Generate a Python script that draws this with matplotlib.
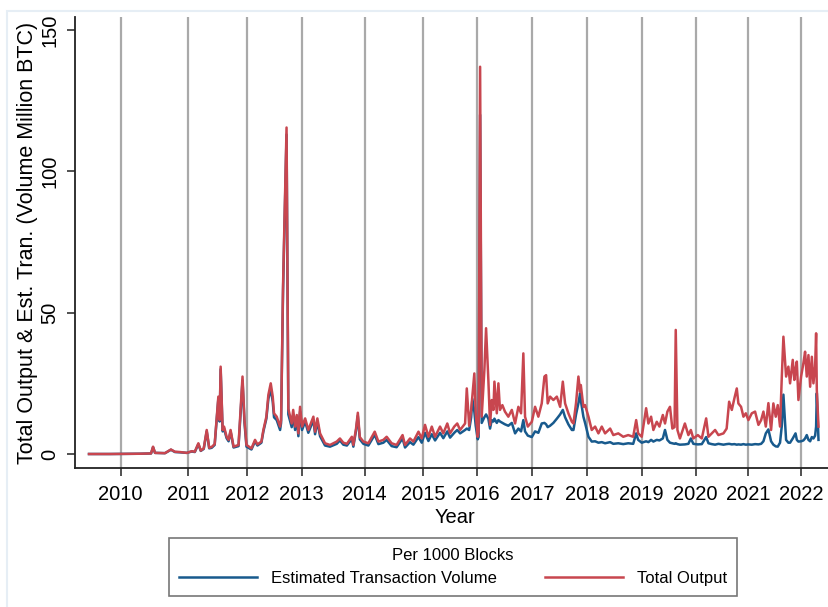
import matplotlib
matplotlib.use("Agg")
import matplotlib.pyplot as plt
from matplotlib.patches import Rectangle

plt.rcParams['font.family'] = ['Liberation Sans', 'DejaVu Sans']

# block height (thousands of blocks) and values per 1000 blocks (million BTC)
blocks_k = [0.6, 21.7, 52, 63, 65, 67, 77, 83, 87, 92, 99, 104, 107, 110.6, 113, 116, 119, 121.5, 124, 127,
            130.7, 132, 133, 135, 136.4, 139, 141, 143, 146, 151, 153, 155, 157, 159, 164, 167.6, 170, 174, 176, 179,
            181, 183.4, 185.4, 186.7, 189.4, 192.8, 193.8, 195.8, 199.3, 201.1, 204.5, 206, 207.9, 209.6, 211.2, 212.9, 214.9, 218, 221.2, 226.3,
            228, 230.3, 233, 238, 243, 249.8, 253, 256.4, 260, 265, 266.5, 269.2, 271, 273, 276.6, 281.6, 288, 291.7, 296.7, 300,
            305, 310, 316, 318.5, 323.5, 326.9, 332, 335.3, 338.6, 342, 345.4, 348.7, 353.7, 357, 361, 363.8, 368, 371, 373.9, 378.9,
            380.6, 383, 385, 386.2, 388.2, 389.6, 391.6, 392.5, 394.0, 395.6, 398.3, 400, 402.3, 404, 405.7, 407.4, 408.4, 410.8, 412.4, 414,
            416.4, 419, 422.4, 425.9, 429.2, 432.5, 435.2, 437.5, 439.2, 442, 446, 449.3, 452.6, 456, 458.7, 460.4, 462, 464.4, 467.7, 471.2,
            474.5, 477.2, 479.5, 482.8, 486.3, 487.9, 490.5, 492.9, 494.6, 495.3, 497.9, 499.6, 503, 506.3, 509.7, 513, 516.4, 519.7, 524.8, 528,
            533, 538, 543, 548, 551, 553, 556.6, 561, 563.3, 566, 568.3, 571.7, 574.4, 577.8, 580, 582.4, 585, 587.4, 589.6, 590.8,
            592.5, 595, 600, 603.5, 606, 608.5, 613, 617, 621.4, 623.7, 627, 630.4, 633.7, 638.8, 642, 644.5, 647.2, 649.8, 652.2, 653.8,
            656.5, 658.9, 661.3, 663.9, 667.3, 670.6, 674, 676.7, 679, 681.4, 684, 686.7, 689, 691.4, 693.4, 695.7, 697.5, 699.1, 701.8, 704.1,
            705.8, 708.5, 710.1, 711.3, 712.6, 714.2, 716.9, 719.2, 720.9, 722.6, 724.3, 726, 727.7, 729.3, 731, 732, 732.7, 734.4]

total_output = [0, 0, 0.1, 0.2, 2.6, 0.4, 0.3, 1.6, 0.8, 0.7, 0.4, 1.0, 0.8, 3.8, 1.2, 2.0, 8.5, 2.2, 2.5, 3.5,
                20.3, 12, 30.9, 8.5, 9.7, 6.1, 5, 8.5, 2.6, 3.2, 15, 27.4, 12, 3.2, 2, 5, 3.4, 4.4, 8.5, 13.2,
                20.9, 25, 20.3, 14.4, 13.2, 9.7, 12, 60, 115.5, 16, 10.8, 15.6, 9.7, 13.8, 7.3, 16.7, 9.7, 12.6, 8.5, 13.2,
                7.9, 12.6, 7.3, 3.8, 3.2, 4.4, 5.5, 4.0, 3.6, 6.1, 3.2, 9, 14.6, 6, 4.4, 3.8, 7.9, 4.4, 5.0, 6.1,
                3.8, 3.2, 6.7, 3.2, 5.5, 4.4, 7.9, 5.5, 10.3, 6.1, 9.7, 6.1, 9.7, 7.3, 10.8, 7.3, 9.7, 10.8, 8.5, 10.8,
                23.2, 10, 15.6, 20.3, 28.5, 14.4, 6.1, 8, 137, 13.2, 29.7, 44.5, 26.2, 10.3, 19.1, 15.6, 25.6, 14.4, 25, 15.6,
                17.3, 15, 13.2, 15.6, 10.8, 16.7, 14.4, 35.6, 13.2, 9.7, 11.4, 16.7, 13.2, 17.9, 27.4, 27.9, 17.9, 20.3, 19.1, 20.3,
                16.7, 25.6, 17.9, 14.4, 11.4, 10.8, 18, 27.4, 22, 24.4, 16.7, 17.3, 13.2, 8.5, 9.7, 7.3, 9.7, 7.3, 9, 6.7,
                7.3, 6.1, 6.7, 6.1, 12, 7.3, 6.1, 16.2, 10.8, 13.2, 8.5, 11.4, 9.7, 13.8, 10.8, 15, 16.7, 9, 9.5, 43.9,
                8.5, 5.5, 10.8, 6.7, 8.5, 5.5, 6.7, 5.5, 12.6, 6.1, 7.3, 8.5, 6.7, 7.3, 9, 18.5, 15.6, 19.7, 23.2, 17.9,
                16.7, 13.2, 14.4, 12, 14.4, 15, 10.3, 12, 15, 9.7, 18, 8.5, 17.9, 13.2, 17.3, 9.7, 27.4, 41.5, 27.4, 30.9,
                25, 33.3, 26.2, 30, 32.7, 19.1, 27.4, 32.1, 36.2, 27.4, 35, 23.8, 34.4, 25, 30.9, 42.7, 22.6, 9.7]

est_tx_volume = [0, 0, 0.1, 0.2, 2.4, 0.4, 0.3, 1.5, 0.7, 0.6, 0.4, 0.9, 0.7, 3.5, 1.1, 1.8, 8.0, 2.0, 2.2, 3.2,
                 19.5, 11.5, 30, 8, 9, 5.6, 4.5, 8, 2.3, 2.8, 14, 26, 11, 2.6, 1.6, 4.5, 3, 4, 8, 12.5,
                 19.5, 23, 18.5, 13, 12, 8.5, 11, 58, 113, 14, 9.5, 14, 8.5, 12.5, 6.3, 15, 8.5, 11.5, 7.5, 12,
                 7, 11.5, 6.3, 3.0, 2.6, 3.6, 4.8, 3.3, 3.0, 5.3, 2.6, 8.3, 13.5, 5.2, 3.6, 3.0, 6.8, 3.5, 4.0, 5.0,
                 2.8, 2.4, 5.5, 2.3, 4.2, 3.3, 6.0, 4.0, 7.5, 4.6, 7.0, 4.8, 7.5, 5.6, 8.0, 5.8, 7.5, 8.5, 7.3, 8.5,
                 9.0, 8.5, 13, 19.5, 15, 10, 5.2, 6, 120, 11, 13, 14, 12.5, 9, 12, 11.5, 12.5, 11, 12, 11.5,
                 11, 10.5, 10, 11, 7.3, 9, 8, 12, 8, 6.5, 6, 8, 7.5, 10.8, 11, 10.5, 9.5, 10, 11, 12.5,
                 14, 15.6, 13, 10.5, 8.5, 8.5, 14, 18, 21.5, 19, 13.2, 11, 6.1, 4.4, 4.5, 4.0, 4.2, 3.8, 4.2, 3.6,
                 3.8, 3.5, 3.8, 3.6, 7.3, 5, 4, 4.5, 4.2, 5, 4.4, 5, 4.8, 5.5, 8.5, 5, 4, 3.8, 3.6, 3.8,
                 3.5, 3.3, 3.4, 3.6, 5.5, 3.6, 3.4, 3.5, 6, 3.8, 3.5, 3.3, 3.6, 3.3, 3.5, 3.6, 3.4, 3.5, 3.3, 3.4,
                 3.3, 3.5, 3.3, 3.4, 3.3, 3.5, 3.4, 3.6, 4.5, 7.3, 8.7, 4.5, 3.3, 2.7, 2.6, 4, 10, 21, 5, 4,
                 4, 5.5, 6.5, 7.3, 5, 4.4, 4.5, 4.8, 5.5, 6.7, 5, 4.5, 6, 5.5, 6.5, 9.7, 21.5, 5]

# first block of each calendar year (thousands)
year_blocks = [32.5, 100.4, 160.0, 214.6, 278.0, 336.9, 391.2, 446.0, 502.0, 556.5, 610.7, 663.9, 716.6]
year_labels = ['2010', '2011', '2012', '2013', '2014', '2015', '2016', '2017', '2018', '2019', '2020', '2021', '2022']

W, H = 829, 607
fig = plt.figure(figsize=(W / 100, H / 100), dpi=100)
fig.patches.append(Rectangle((7 / W, -0.1), 1.2, 1 - 11 / H + 0.1, transform=fig.transFigure,
                             fill=False, edgecolor='#e6eef5', lw=1.5))

ax = fig.add_axes([75 / W, (H - 468) / H, 760 / W, 451 / H])
ax.plot(blocks_k, est_tx_volume, color='#185a8d', lw=1.8, label='Estimated Transaction Volume')
ax.plot(blocks_k, total_output, color='#c8464f', lw=1.8, label='Total Output')

ax.set_xlim(-13.5, 751)
ax.set_ylim(-4.95, 154.6)
ax.set_xticks(year_blocks)
ax.set_xticklabels(year_labels, fontsize=14.5)
ax.set_yticks([0, 50, 100, 150])
ax.set_yticklabels(['0', '50', '100', '150'], fontsize=14.5, rotation=90, va='center')
ax.xaxis.grid(True, color='#a9a9a9', lw=1.6)
ax.set_axisbelow(True)
for s in ['top', 'right']:
    ax.spines[s].set_visible(False)
for s in ['left', 'bottom']:
    ax.spines[s].set_color('#222222')
    ax.spines[s].set_linewidth(1.3)
ax.tick_params(axis='both', length=6, width=1.1, color='#222222')
ax.tick_params(axis='x', pad=6)
ax.tick_params(axis='y', pad=5)

ax.set_xlabel('Year', fontsize=14.5, labelpad=3)
ax.set_ylabel('Total Output & Est. Tran. (Volume Million BTC)', fontsize=15.5, labelpad=2)

leg = ax.legend(loc='center', bbox_to_anchor=(453 / W, 1 - 567 / H), bbox_transform=fig.transFigure,
                ncol=2, title='Per 1000 Blocks', fontsize=12, title_fontsize=12, frameon=True,
                fancybox=False, handlelength=4.7, handletextpad=0.8, columnspacing=2.9,
                borderpad=0.6, labelspacing=0.5)
leg.get_frame().set_edgecolor('#555555')
leg.get_frame().set_linewidth(1.2)

fig.savefig('out.png', dpi=100)
